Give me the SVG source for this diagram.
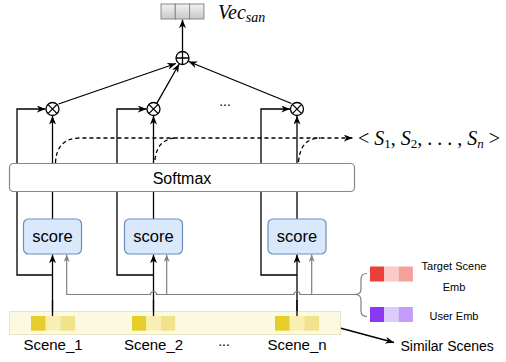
<svg xmlns="http://www.w3.org/2000/svg" width="506" height="362" viewBox="0 0 506 362">
<style>
.blk{stroke:#000;stroke-width:1.3;fill:none}
.gry{stroke:#808080;stroke-width:1.2;fill:none}
.dash{stroke:#000;stroke-width:1.3;fill:none;stroke-dasharray:4 3}
.op{fill:#fff;stroke:#000;stroke-width:1.3}
.sans{font-family:"Liberation Sans",Arial,sans-serif;fill:#000}
.serif{font-family:"Liberation Serif","Times New Roman",serif;fill:#000}
.score{fill:#dae8fc;stroke:#6c8ebf;stroke-width:1.2}
.vcell{fill:url(#gg);stroke:#888;stroke-width:1}
</style>
<defs>
<linearGradient id="gg" x1="0" y1="0" x2="0" y2="1"><stop offset="0" stop-color="#f2f2f2"/><stop offset="1" stop-color="#c8c8c8"/></linearGradient>
<marker id="ab" viewBox="0 0 10 8" markerUnits="userSpaceOnUse" markerWidth="9" markerHeight="7" refX="10" refY="4" orient="auto"><path d="M0,0 L10,4 L0,8 L3,4 z" fill="#000"/></marker>
<marker id="ag" viewBox="0 0 10 8" markerUnits="userSpaceOnUse" markerWidth="8" markerHeight="6" refX="10" refY="4" orient="auto"><path d="M0,0 L10,4 L0,8 L3,4 z" fill="#808080"/></marker>
</defs>

<g id="connectors">
<path class="blk" d="M52.5,275 H17 V109 H45.5" marker-end="url(#ab)"/>
<path class="blk" d="M153.5,275 H117 V109 H146.5" marker-end="url(#ab)"/>
<path class="blk" d="M297,275 H261 V109 H290" marker-end="url(#ab)"/>
<line class="blk" x1="52.5" y1="316" x2="52.5" y2="254.5" marker-end="url(#ab)"/>
<line class="blk" x1="153.5" y1="316" x2="153.5" y2="254.5" marker-end="url(#ab)"/>
<line class="blk" x1="297" y1="316" x2="297" y2="254.5" marker-end="url(#ab)"/>
<line class="blk" x1="52.5" y1="219" x2="52.5" y2="115.8" marker-end="url(#ab)"/>
<line class="blk" x1="153.5" y1="219" x2="153.5" y2="115.8" marker-end="url(#ab)"/>
<line class="blk" x1="297" y1="219" x2="297" y2="115.8" marker-end="url(#ab)"/>
<line class="blk" x1="58.5" y1="104" x2="176" y2="63.5" marker-end="url(#ab)"/>
<line class="blk" x1="156.8" y1="103.4" x2="179.3" y2="63.8" marker-end="url(#ab)"/>
<line class="blk" x1="291.5" y1="103.5" x2="188.5" y2="61.5" marker-end="url(#ab)"/>
<line class="blk" x1="182.5" y1="51.5" x2="182.5" y2="19.5" marker-end="url(#ab)"/>
<path class="gry" d="M358,294.5 H300 A3,3 0 0 0 294,294.5 H156.5 A3,3 0 0 0 150.5,294.5 H66.7 V254.5" marker-end="url(#ag)"/>
<line class="gry" x1="166.7" y1="294.5" x2="166.7" y2="254.5" marker-end="url(#ag)"/>
<line class="gry" x1="311.7" y1="294.5" x2="311.7" y2="254.5" marker-end="url(#ag)"/>
<path class="gry" d="M367,273.5 Q361,273.5 361,279 V289 Q361,294.5 355,294.5 Q361,294.5 361,300 V311 Q361,316.5 367,316.5"/>
<line class="blk" x1="340" y1="328" x2="394" y2="342.5" marker-end="url(#ab)"/>
</g>

<g id="softmax">
<rect x="9.5" y="163.5" width="345" height="28" rx="4" fill="#fff" stroke="#888" stroke-width="1.2"/>
<text class="sans" x="182" y="183.5" font-size="16" text-anchor="middle">Softmax</text>
</g>

<g id="dashed">
<path class="dash" d="M55.5,163 Q56.5,138 80,138 L352.5,138" marker-end="url(#ab)"/>
<path class="dash" d="M155,160 Q157,138 178,138"/>
<path class="dash" d="M298.5,162 Q300.5,138 320,138"/>
<text class="serif" x="358" y="144.5" font-size="20"><tspan>&lt; </tspan><tspan font-style="italic">S</tspan><tspan font-size="13" dy="3">1</tspan><tspan dy="-3">, </tspan><tspan font-style="italic">S</tspan><tspan font-size="13" dy="3">2</tspan><tspan dy="-3">, . . . , </tspan><tspan font-style="italic">S</tspan><tspan font-size="13" dy="3" font-style="italic">n</tspan><tspan dy="-3"> &gt;</tspan></text>
</g>

<g id="vec">
<rect class="vcell" x="161" y="4" width="14.3" height="15"/>
<rect class="vcell" x="175.3" y="4" width="14.3" height="15"/>
<rect class="vcell" x="189.6" y="4" width="14.3" height="15"/>
<text class="serif" x="218" y="19" font-size="20" font-style="italic">Vec<tspan font-size="14" dy="3">san</tspan></text>
</g>

<g id="plus">
<circle class="op" cx="182.5" cy="58" r="6.5"/>
<path class="blk" d="M176,58 H189 M182.5,51.5 V64.5"/>
</g>

<g id="mul1">
<circle class="op" cx="52.5" cy="109" r="6.5"/>
<path class="blk" d="M47.9,104.4 L57.1,113.6 M57.1,104.4 L47.9,113.6"/>
</g>
<g id="mul2">
<circle class="op" cx="153.5" cy="109" r="6.5"/>
<path class="blk" d="M148.9,104.4 L158.1,113.6 M158.1,104.4 L148.9,113.6"/>
</g>
<g id="mul3">
<circle class="op" cx="297" cy="109" r="6.5"/>
<path class="blk" d="M292.4,104.4 L301.6,113.6 M301.6,104.4 L292.4,113.6"/>
</g>
<text class="sans" x="225" y="106" font-size="14" text-anchor="middle">...</text>

<g id="score1">
<rect class="score" x="23.5" y="219" width="58" height="35" rx="5"/>
<text class="sans" x="52.5" y="242" font-size="16.5" text-anchor="middle">score</text>
</g>
<g id="score2">
<rect class="score" x="124.5" y="219" width="58" height="35" rx="5"/>
<text class="sans" x="153.5" y="242" font-size="16.5" text-anchor="middle">score</text>
</g>
<g id="score3">
<rect class="score" x="268" y="219" width="58" height="35" rx="5"/>
<text class="sans" x="297" y="242" font-size="16.5" text-anchor="middle">score</text>
</g>

<g id="scenes">
<rect x="9.5" y="311.5" width="331" height="23" fill="#fcf9e3" stroke="#e9e5c4" stroke-width="1"/>
<rect x="31" y="316" width="14.7" height="14.7" fill="#e6cd2a"/>
<rect x="45.7" y="316" width="14.7" height="14.7" fill="#f8efb3"/>
<rect x="60.4" y="316" width="14.7" height="14.7" fill="#f1e38a"/>
<rect x="132" y="316" width="14.4" height="14.7" fill="#e6cd2a"/>
<rect x="146.4" y="316" width="14.4" height="14.7" fill="#f8efb3"/>
<rect x="160.8" y="316" width="14.4" height="14.7" fill="#f1e38a"/>
<rect x="275" y="316" width="14.7" height="14.7" fill="#e6cd2a"/>
<rect x="289.7" y="316" width="14.7" height="14.7" fill="#f8efb3"/>
<rect x="304.4" y="316" width="14.7" height="14.7" fill="#f1e38a"/>
<line class="blk" x1="52.5" y1="316" x2="52.5" y2="300"/>
<line class="blk" x1="153.5" y1="316" x2="153.5" y2="300"/>
<line class="blk" x1="297" y1="316" x2="297" y2="300"/>
<text class="sans" x="53" y="350" font-size="15" text-anchor="middle">Scene_1</text>
<text class="sans" x="153.5" y="350" font-size="15" text-anchor="middle">Scene_2</text>
<text class="sans" x="224" y="346" font-size="14" text-anchor="middle">...</text>
<text class="sans" x="297" y="350" font-size="15" text-anchor="middle">Scene_n</text>
<text class="sans" x="400.5" y="350.5" font-size="14">Similar Scenes</text>
</g>

<g id="target-emb">
<rect x="370" y="266.5" width="14.3" height="15" fill="#e9413a"/>
<rect x="384.3" y="266.5" width="14.3" height="15" fill="#f9cac9"/>
<rect x="398.6" y="266.5" width="14.3" height="15" fill="#f4a19c"/>
<text class="sans" x="454" y="269.5" font-size="11" text-anchor="middle">Target Scene</text>
<text class="sans" x="454" y="290.5" font-size="11" text-anchor="middle">Emb</text>
</g>
<g id="user-emb">
<rect x="370" y="307" width="14.3" height="15" fill="#8b37f6"/>
<rect x="384.3" y="307" width="14.3" height="15" fill="#dccbfb"/>
<rect x="398.6" y="307" width="14.3" height="15" fill="#c39bf8"/>
<text class="sans" x="454" y="320" font-size="11" text-anchor="middle">User Emb</text>
</g>
</svg>
